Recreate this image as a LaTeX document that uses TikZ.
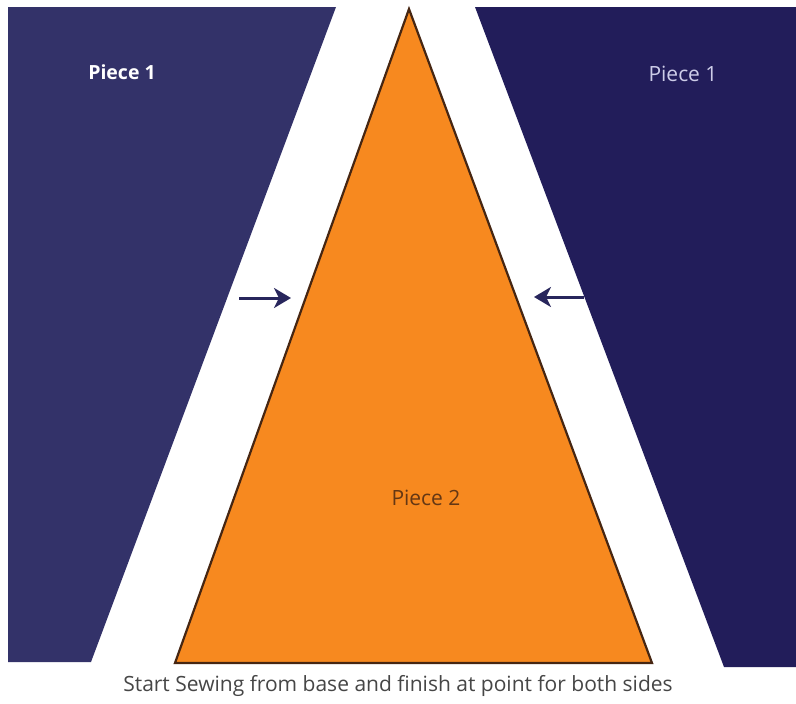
\documentclass[tikz,border=0pt]{standalone}
\usepackage{fontspec}
\setmainfont{Open Sans}
\usetikzlibrary{arrows.meta}
\definecolor{navyL}{RGB}{51,50,105}
\definecolor{navyR}{RGB}{34,29,90}
\definecolor{orangeP}{RGB}{247,137,31}
\definecolor{edgeB}{RGB}{70,38,18}
\definecolor{arrowC}{RGB}{40,38,92}
\definecolor{textG}{RGB}{70,70,70}
\definecolor{lilac}{RGB}{205,205,232}
\definecolor{brownT}{RGB}{100,55,20}
\tikzset{
  seamarrow/.style={draw=arrowC, line width=3pt, -{Stealth[length=17pt,width=20pt,inset=5pt]}},
  lbl/.style={inner sep=0pt, font=\fontsize{21}{24}\selectfont}
}
\begin{document}
\begin{tikzpicture}[x=1pt,y=-1pt]
\useasboundingbox (0,0) rectangle (796,704);
\fill[white] (0,0) rectangle (796,704);
% left piece 1
\fill[navyL] (8,7) -- (336,7) -- (91,662) -- (8,662) -- cycle;
% right piece 1
\fill[navyR] (475,7) -- (796,7) -- (796,667) -- (724,667) -- cycle;
% piece 2
\fill[orangeP, draw=edgeB, line width=2.2pt, line join=miter] (409,9) -- (652,663) -- (175,663) -- cycle;
% labels
\node[lbl, text=white, font=\fontsize{19.5}{24}\selectfont\bfseries] (p1l) at (122,72) {Piece 1};
\node[lbl, text=lilac] (p1r) at (683,74) {Piece 1};
\node[lbl, text=brownT] (p2) at (426,498) {Piece 2};
\node[lbl, text=textG, font=\fontsize{21}{24}\selectfont] (cap) at (398,686) {Start Sewing from base and finish at point for both sides};
% arrows
\coordinate (la0) at (239,298);
\coordinate (la1) at (291,298);
\coordinate (ra0) at (584,297);
\coordinate (ra1) at (534,297);
\draw[seamarrow] (la0) -- (la1);
\draw[seamarrow] (ra0) -- (ra1);
\end{tikzpicture}
\end{document}
